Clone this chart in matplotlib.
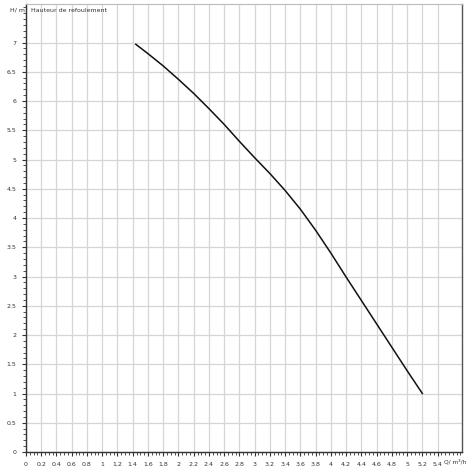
import numpy as np
import matplotlib
matplotlib.use("Agg")
import matplotlib.pyplot as plt
from matplotlib.ticker import MultipleLocator

# Data
flow_q = [1.44, 1.6, 1.8, 2.0, 2.2, 2.4, 2.6, 2.8, 3.0, 3.2, 3.4, 3.6,
          3.8, 4.0, 4.2, 4.4, 4.6, 4.8, 5.0, 5.2]
head_h = [6.97, 6.81, 6.60, 6.37, 6.13, 5.87, 5.60, 5.31, 5.03, 4.76, 4.47,
          4.15, 3.79, 3.40, 2.99, 2.59, 2.19, 1.79, 1.39, 1.0]

x_label = "Q/ m³/h"
y_label = "H/ m"
title_text = "Hauteur de refoulement"

fig = plt.figure(figsize=(4.7, 4.7), dpi=100)
ax = fig.add_axes([26 / 470, 1 - 452 / 470, (462 - 26) / 470, (452 - 4.5) / 470])

ax.plot(flow_q, head_h, color="#111111", lw=1.1, zorder=3)

ax.set_xlim(0, 5.72)
ax.set_ylim(0, 7.65)

ax.xaxis.set_minor_locator(MultipleLocator(0.05))
ax.yaxis.set_minor_locator(MultipleLocator(0.1))

def fmt(v):
    s = f"{v:.1f}"
    if s.endswith(".0"):
        s = s[:-2]
    return s

xt = np.arange(0, 5.41, 0.2)
ax.set_xticks(xt)
ax.set_xticklabels([fmt(v) for v in xt])
yt = np.arange(0, 7.01, 0.5)
ax.set_yticks(yt)
ax.set_yticklabels([fmt(v) for v in yt])

ax.grid(True, which="major", color="#d6d6d6", lw=0.9)
ax.set_axisbelow(True)

ax.tick_params(which="major", direction="out", length=3, width=0.8,
               labelsize=4.5, colors="#333333", pad=4)
ax.tick_params(which="minor", direction="out", length=2, width=0.6,
               colors="#333333")

for side in ["left", "bottom"]:
    ax.spines[side].set_color("#333333")
    ax.spines[side].set_linewidth(1.0)
ax.spines["top"].set_color("#bbbbbb")
ax.spines["right"].set_color("#555555")
ax.spines["right"].set_linewidth(1.0)

fig.text(10 / 470, 1 - 10 / 470, y_label, fontsize=4.5, color="#333333",
         va="center", ha="left")
fig.text(31 / 470, 1 - 11 / 470, title_text, fontsize=4.5, color="#333333",
         va="center", ha="left")
fig.text(466 / 470, 1 - 462 / 470, x_label, fontsize=4.2, color="#333333",
         va="center", ha="right")

fig.savefig("out.png", dpi=100)
